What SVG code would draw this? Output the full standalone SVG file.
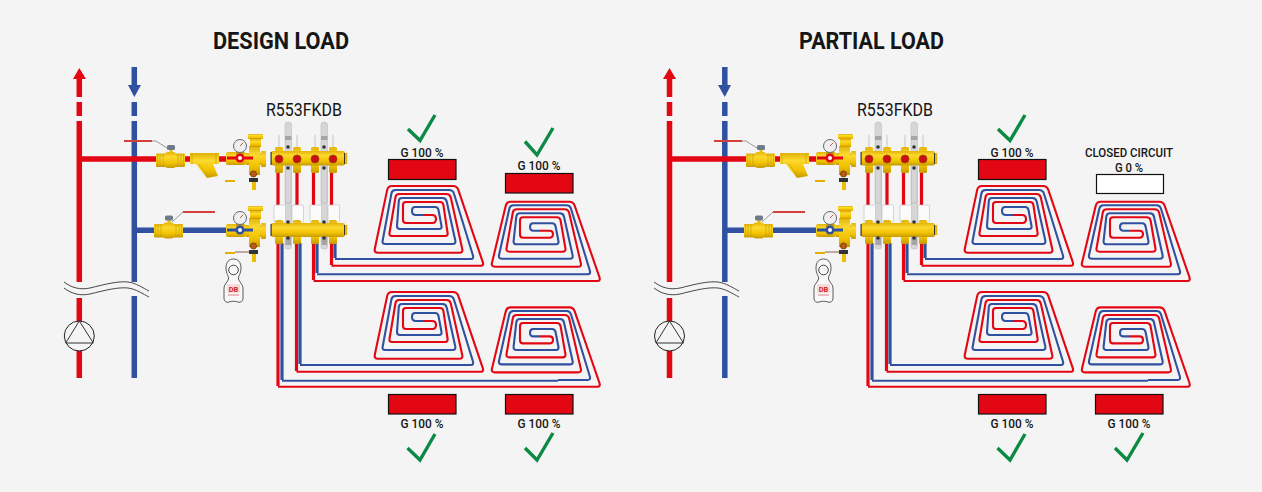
<svg xmlns="http://www.w3.org/2000/svg" xmlns:xlink="http://www.w3.org/1999/xlink" width="1262" height="492" viewBox="0 0 1262 492">
<style>
text{font-family:Roboto,"Liberation Sans",sans-serif;fill:#161616}
.title{font-size:24px;font-weight:700}
.model{font-size:17.5px}
.lab{font-size:13px;font-weight:500;text-anchor:middle}
.r{fill:none;stroke:#e30613;stroke-width:2.1;stroke-linejoin:round}
.b{fill:none;stroke:#2f519f;stroke-width:2.1;stroke-linejoin:round}
.rv{stroke:#e30613;stroke-width:3.2;fill:none}
.bv{stroke:#2f519f;stroke-width:3.2;fill:none}
.rp{stroke:#e30613;stroke-width:5.5;fill:none}
.bp{stroke:#2f519f;stroke-width:5.5;fill:none}
.y{fill:url(#brass)}
.ys{fill:#efbe00}
.box{stroke:#111;stroke-width:1.2}
.tick{fill:none;stroke:#0b8a44;stroke-width:3.4}
.thin{fill:none;stroke:#333;stroke-width:1}
.wave{fill:none;stroke:#333;stroke-width:.9}
.strip{fill:#d6d6d6;stroke:#b5b5b5;stroke-width:.5}
.dark{fill:#333}
.wh{fill:#fbfbfb;stroke:#c4c4c4;stroke-width:.7}
</style>
<defs>
<linearGradient id="brass" x1="0" y1="0" x2="0" y2="1"><stop offset="0" stop-color="#e3b208"/><stop offset=".3" stop-color="#fbd92e"/><stop offset=".7" stop-color="#f2c200"/><stop offset="1" stop-color="#c79a05"/></linearGradient>
<g id="spiralA">
<path class="r" d="M470,265.7L481,265.7Q484,265.7 482.7,261.9L458.3,189.8Q457,186 453,186L392,186Q388,186 387.2,189.9L374.8,248.8Q374,252.7 378,252.7L459.5,252.7Q463,252.7 462.3,249.3L450.8,197.4Q450,194 446.5,194L399,194Q396,194 395.5,197L389.5,233Q389,236 392,236L445,236Q448,236 447.6,233L443.4,205Q443,202 440,202L406,202Q403,202 403,205L403,220Q403,223 406,223L432.5,223Q436,223 436,219Q436,215 432,215L423,215"/>
<path class="b" d="M468,259L471,259Q474,259 472.9,255.2L454,193.8Q453,190 449,190L395.5,190Q392,190 391.4,193.5L382.6,241Q382,244 385.5,244L452.5,244Q456,244 455.3,240.5L446.7,201.5Q446,198 442.5,198L402,198Q399,198 398.8,201L397,226Q397,229 400,229L439,229Q442,229 441.5,226L438.5,210Q438,207 435,207L415,207Q412,207 412,211Q412,215 416,215L423,215"/>
</g>
<g id="spiralB">
<path class="r" d="M560,281L597.5,281Q600.7,281 599.4,277L574.6,205.5Q573.3,201.7 569.5,201.7L510.5,201.7Q506.7,201.7 505.8,205.6L492,262.8Q491,266.7 495,266.7L578,266.7Q581.7,266.7 580.8,263L569.2,213Q568.3,209.3 564.5,209.3L517,209.3Q513.3,209.3 512.8,212.5L506.5,248.5Q506,251.7 509.5,251.7L562.5,251.7Q566,251.7 565.4,248.3L560.6,220.5Q560,217.3 556.5,217.3L523,217.3Q520,217.3 520,220.5L520,234.5Q520,237.7 523,237.7L549.5,237.7Q553,237.7 553,234Q553,230.7 549.5,230.7L540,230.7"/>
<path class="b" d="M558,274.3L587.5,274.3Q591,274.3 589.8,270.5L571.1,209Q570,205.3 566.5,205.3L513.5,205.3Q510,205.3 509.3,208.7L499,255.3Q498.3,258.7 502,258.7L570,258.7Q573.3,258.7 572.6,255.3L564,216.7Q563.3,213.3 560,213.3L520,213.3Q516.7,213.3 516.3,216.7L513.6,241Q513.3,244.3 516.5,244.3L556,244.3Q559,244.3 558.4,241L555.6,226.5Q555,223.3 552,223.3L533,223.3Q530,223.3 530,227Q530,230.7 533.5,230.7L540,230.7"/>
</g>
<g id="ballBody">
<rect class="y" x="0" y="-6.500" width="29" height="13.500" rx="1"/>
<rect class="y" x="9" y="-8" width="11" height="16" rx="3"/>
<rect class="ys" x="13.500" y="-11" width="3" height="4"/>
<rect x="11" y="-15" width="8" height="5" rx="1.500" fill="#6e7c8a"/>
<path d="M1.500,-6V6.500M4,-6V6.500M7,-6V6.500M22,-6V6.500M25,-6V6.500M27.500,-6V6.500" stroke="#c39a08" stroke-width=".6"/>
</g>
<g id="strainer">
<path class="y" d="M190,153H219V164H213L218,176L207,178L196,164H190Z"/>
<path d="M192,153V164M216,153V164M199,164L209,177" stroke="#c39a08" stroke-width=".6" fill="none"/>
</g>
<g id="safety">
<rect class="y" x="226" y="152" width="20" height="13" rx="2"/>
<rect class="y" x="246" y="153" width="20" height="12"/>
<rect class="y" x="261" y="151" width="5" height="16" rx="1"/>
<rect class="y" x="249" y="146" width="11" height="29"/>
<rect class="y" x="248" y="134" width="15" height="5" rx="1"/>
<rect class="y" x="250" y="139" width="11" height="8"/>
<rect x="236" y="150" width="8" height="5" fill="#c8a000"/>
<circle cx="240" cy="146" r="6.500" fill="#eef0f0" stroke="#667" stroke-width="1"/>
<path d="M240,146L243,143" stroke="#c22" stroke-width=".8"/>
<circle cx="253.500" cy="174" r="3" fill="#c2561a" stroke="#7b4a00" stroke-width="1"/>
<rect x="249" y="178" width="9" height="4" fill="#333"/>
<rect class="ys" x="252" y="182" width="4" height="8"/>
</g>
<g id="manifoldTop">
<g class="strip"><rect x="285" y="122" width="6.500" height="83" rx="3"/><rect x="321" y="122" width="6.500" height="83" rx="3"/></g>
<path d="M279,135V148M297,135V148M315,135V148M333,135V148" stroke="#dcdcdc" stroke-width="2"/>
<g class="y"><rect x="275" y="147" width="8" height="26" rx="1.500"/><rect x="293" y="147" width="8" height="26" rx="1.500"/><rect x="311" y="147" width="8" height="26" rx="1.500"/><rect x="329" y="147" width="8" height="26" rx="1.500"/></g>
<rect class="y" x="271" y="151" width="74" height="14.500" rx="2"/>
<rect x="344" y="153" width="1.200" height="11" fill="#333"/><rect x="345.200" y="153" width="2" height="11" fill="#e6b400"/>
<rect x="270.500" y="152" width="1.200" height="13" fill="#333"/>
<g fill="#cf0d14" stroke="#8a4a00" stroke-width=".7"><circle cx="279" cy="159" r="4"/><circle cx="297" cy="159" r="4"/><circle cx="315" cy="159" r="4"/><circle cx="333" cy="159" r="4"/></g>
<rect class="strip" x="285.500" y="166" width="5.500" height="37"/><rect class="strip" x="321.500" y="166" width="5.500" height="37"/>
<g class="dark"><circle cx="288" cy="147" r="1.800"/><circle cx="324" cy="147" r="1.800"/><circle cx="288" cy="168" r="1.800"/><circle cx="324" cy="168" r="1.800"/></g>
<rect x="285" y="136" width="6.500" height="4" fill="#a5a5a5"/><rect x="321" y="136" width="6.500" height="4" fill="#a5a5a5"/>
</g>
<g id="manifoldBottom">
<g class="strip"><rect x="285" y="203" width="6.500" height="46" rx="2"/><rect x="321" y="203" width="6.500" height="46" rx="2"/></g>
<g class="wh"><rect x="274" y="205" width="11.500" height="17" rx="1"/><rect x="292" y="205" width="11.500" height="17" rx="1"/><rect x="310" y="205" width="11.500" height="17" rx="1"/><rect x="328" y="205" width="11.500" height="17" rx="1"/></g>
<g class="y"><rect x="275" y="220" width="8" height="24" rx="1.500"/><rect x="293" y="220" width="8" height="24" rx="1.500"/><rect x="311" y="220" width="8" height="24" rx="1.500"/><rect x="329" y="220" width="8" height="24" rx="1.500"/></g>
<rect class="y" x="271" y="223" width="74" height="14" rx="2"/>
<rect x="344" y="225" width="1.200" height="10" fill="#333"/><rect x="345.200" y="225" width="2" height="10" fill="#e6b400"/>
<rect x="270.500" y="224" width="1.200" height="12" fill="#333"/>
<rect x="285.500" y="237" width="5.500" height="8" fill="#a5a5a5"/><rect x="321.500" y="237" width="5.500" height="8" fill="#a5a5a5"/>
<g class="dark"><circle cx="288" cy="222" r="1.800"/><circle cx="324" cy="222" r="1.800"/><circle cx="288" cy="238" r="1.800"/><circle cx="324" cy="238" r="1.800"/></g>
</g>
<g id="tagShape">
<path d="M226,268C226,262 229,259 233.500,259C238,259 241,262 241,268C241,274 238,276 238.500,279C239,282 243,284 243,288V298C243,301 241,303 238,302C235,301 232,301 229,302C226,303 224,301 224,298V288C224,284 228,282 228.500,279C229,276 226,274 226,268Z" fill="#f8f8f8" stroke="#333" stroke-width=".8"/>
<circle cx="233.500" cy="270" r="4.800" fill="none" stroke="#333" stroke-width=".9"/>
<rect x="227" y="284" width="13" height="9" fill="#f7dcdc"/>
<path d="M228,295H239" stroke="#e8a8a8" stroke-width="1.500"/>
</g>
</defs>
<rect x="0" y="0" width="1262" height="492" fill="#f4f4f4"/>

<g id="connectors">
<path id="riser-red-l" class="rp" d="M79.300,79V97M79.300,102V116M79.300,121V282M79.300,298V378"/>
<path id="riser-blue-l" class="bp" d="M134.300,67V86M134.300,102V116M134.300,121V282M134.300,296V378"/>
<path id="branch-red-l" class="rp" d="M79,159H157M184,159H191M218,159H228"/>
<path id="branch-blue-l" class="bp" d="M135,230.300H155M182,230.300H228"/>
<path class="rv" d="M278,173V205M297,173V205M313.500,173V205M331.500,173V205"/>
<path class="rv" d="M278,243V386M296.500,243V371M313.500,243V280M331.500,243V265"/>
<path class="bv" d="M282,243V380M300,243V364M317,243V273M335,243V258"/>
<path class="r" d="M278,386.700H560M296.500,371.700H470M313.500,281H560M331.500,265.700H470"/>
<path class="b" d="M282,380.700H558M300,365H468M317,274.300H558M335,259H468"/>
<path id="riser-red-r" class="rp" d="M669.500,79V97M669.500,102V116M669.500,121V282M669.500,298V378"/>
<path id="riser-blue-r" class="bp" d="M724.800,67V86M724.800,102V116M724.800,121V282M724.800,296V378"/>
<path id="branch-red-r" class="rp" d="M669,159H747M774,159H781M808,159H818"/>
<path id="branch-blue-r" class="bp" d="M725,230.300H745M772,230.300H818"/>
<g transform="translate(590,0)">
<path class="rv" d="M278,173V205M297,173V205M313.500,173V205M331.500,173V205"/>
<path class="rv" d="M278,243V386M296.500,243V371M313.500,243V280M331.500,243V265"/>
<path class="bv" d="M282,243V380M300,243V364M317,243V273M335,243V258"/>
<path class="r" d="M278,386.700H560M296.500,371.700H470M313.500,281H560M331.500,265.700H470"/>
<path class="b" d="M282,380.700H558M300,365H468M317,274.300H558M335,259H468"/>
</g>
</g>

<g id="arrow-red-l"><polygon points="79.300,68 86,79 73,79" fill="#e30613"/></g>
<g id="arrow-blue-l"><polygon points="134.300,97 141,85 128,85" fill="#2f519f"/></g>
<g id="arrow-red-r"><polygon points="669.500,68 676,79 663,79" fill="#e30613"/></g>
<g id="arrow-blue-r"><polygon points="724.800,97 731,85 718,85" fill="#2f519f"/></g>

<g id="break-l"><path class="wave" d="M64,282C72,288 80,290 90,288C106,284 118,281 128,282C136,283 143,288 149,291"/><path class="wave" d="M64,288C72,294 80,296 90,294C106,290 118,287 128,288C136,289 143,294 149,297"/></g>
<g id="break-r"><path class="wave" d="M654,282C662,288 670,290 680,288C696,284 708,281 718,282C726,283 733,288 739,291"/><path class="wave" d="M654,288C662,294 670,296 680,294C696,290 708,287 718,288C726,289 733,294 739,297"/></g>

<g id="pump-l"><circle cx="79.300" cy="336" r="15" fill="#f4f4f4" stroke="#222" stroke-width="1"/><polygon class="thin" points="79.300,321 65.700,343 93.300,343"/></g>
<g id="pump-r"><circle cx="669.500" cy="336" r="15" fill="#f4f4f4" stroke="#222" stroke-width="1"/><polygon class="thin" points="669.500,321 655.900,343 683.500,343"/></g>

<g id="supply-valve-l"><use href="#ballBody" transform="translate(156,160)"/><path d="M124,141H152" stroke="#d5403f" stroke-width="2"/><path d="M152,141H156L167,148" stroke="#999" stroke-width="1" fill="none"/></g>
<g id="strainer-l"><use href="#strainer"/></g>
<g id="safety-top-l"><use href="#safety"/><path d="M227,158H253" stroke="#e30613" stroke-width="3"/><circle cx="240" cy="158" r="4.500" fill="#e30613"/><circle cx="240" cy="158" r="2" fill="#fff"/><rect x="225" y="180" width="10" height="2" fill="#e2b100"/></g>
<g id="return-valve-l"><use href="#ballBody" transform="translate(154,230.500)"/><path d="M183,212H215" stroke="#d5403f" stroke-width="2"/><path d="M183,212L172,222" stroke="#999" stroke-width="1" fill="none"/></g>
<g id="safety-bottom-l"><use href="#safety" transform="translate(0,72)"/><path d="M227,230H253" stroke="#2f519f" stroke-width="3"/><circle cx="240" cy="230" r="4.500" fill="#2f519f"/><circle cx="240" cy="230" r="2" fill="#fff"/><rect x="225" y="252" width="10" height="2" fill="#e2b100"/><path d="M235,252H249" stroke="#7a3a22" stroke-width=".8"/></g>
<g id="manifold-top-l"><use href="#manifoldTop"/></g>
<g id="manifold-bottom-l"><use href="#manifoldBottom"/></g>
<g id="tag-l"><use href="#tagShape"/><text x="233.500" y="291.500" font-size="7.500" font-weight="700" text-anchor="middle" style="fill:#d8232a">DB</text></g>

<g id="supply-valve-r" transform="translate(590,0)"><use href="#ballBody" transform="translate(156,160)"/><path d="M124,141H152" stroke="#d5403f" stroke-width="2"/><path d="M152,141H156L167,148" stroke="#999" stroke-width="1" fill="none"/></g>
<g id="strainer-r" transform="translate(590,0)"><use href="#strainer"/></g>
<g id="safety-top-r" transform="translate(590,0)"><use href="#safety"/><path d="M227,158H253" stroke="#e30613" stroke-width="3"/><circle cx="240" cy="158" r="4.500" fill="#e30613"/><circle cx="240" cy="158" r="2" fill="#fff"/><rect x="225" y="180" width="10" height="2" fill="#e2b100"/></g>
<g id="return-valve-r" transform="translate(590,0)"><use href="#ballBody" transform="translate(154,230.500)"/><path d="M183,212H215" stroke="#d5403f" stroke-width="2"/><path d="M183,212L172,222" stroke="#999" stroke-width="1" fill="none"/></g>
<g id="safety-bottom-r" transform="translate(590,0)"><use href="#safety" transform="translate(0,72)"/><path d="M227,230H253" stroke="#2f519f" stroke-width="3"/><circle cx="240" cy="230" r="4.500" fill="#2f519f"/><circle cx="240" cy="230" r="2" fill="#fff"/><rect x="225" y="252" width="10" height="2" fill="#e2b100"/><path d="M235,252H249" stroke="#7a3a22" stroke-width=".8"/></g>
<g id="manifold-top-r" transform="translate(590,0)"><use href="#manifoldTop"/></g>
<g id="manifold-bottom-r" transform="translate(590,0)"><use href="#manifoldBottom"/></g>
<g id="tag-r" transform="translate(590,0)"><use href="#tagShape"/><text x="233.500" y="291.500" font-size="7.500" font-weight="700" text-anchor="middle" style="fill:#d8232a">DB</text></g>

<g id="loop-a-l"><use href="#spiralA"/></g>
<g id="loop-b-l"><use href="#spiralB"/></g>
<g id="loop-c-l"><use href="#spiralA" transform="translate(0,106)"/></g>
<g id="loop-d-l"><use href="#spiralB" transform="translate(0,105.700)"/></g>
<g id="loop-a-r"><use href="#spiralA" transform="translate(590,0)"/></g>
<g id="loop-b-r"><use href="#spiralB" transform="translate(590,0)"/></g>
<g id="loop-c-r"><use href="#spiralA" transform="translate(590,106)"/></g>
<g id="loop-d-r"><use href="#spiralB" transform="translate(590,105.700)"/></g>

<g id="title-l"><text class="title" x="213" y="48.500" textLength="136" lengthAdjust="spacingAndGlyphs">DESIGN LOAD</text></g>
<g id="title-r"><text class="title" x="799" y="48.500" textLength="145" lengthAdjust="spacingAndGlyphs">PARTIAL LOAD</text></g>
<g id="model-l"><text class="model" x="266" y="116" textLength="76" lengthAdjust="spacingAndGlyphs">R553FKDB</text></g>
<g id="model-r"><text class="model" x="857" y="116" textLength="76" lengthAdjust="spacingAndGlyphs">R553FKDB</text></g>

<g id="status-a-l"><rect class="box" x="388.500" y="159.500" width="67.500" height="20" fill="#e30613"/><text class="lab" x="422" y="156.700" textLength="43" lengthAdjust="spacingAndGlyphs">G 100 %</text><path class="tick" d="M408,129L420,140.500L435,115"/></g>
<g id="status-b-l"><rect class="box" x="505.500" y="173.500" width="67.500" height="19.500" fill="#e30613"/><text class="lab" x="539" y="170" textLength="43" lengthAdjust="spacingAndGlyphs">G 100 %</text><path class="tick" d="M525,141.500L537,155L553,128"/></g>
<g id="status-c-l"><rect class="box" x="388.500" y="394.500" width="67.500" height="19.500" fill="#e30613"/><text class="lab" x="422" y="427.700" textLength="43" lengthAdjust="spacingAndGlyphs">G 100 %</text><path class="tick" d="M407.500,448L420,460L435,434"/></g>
<g id="status-d-l"><rect class="box" x="505.500" y="394.500" width="67.500" height="19.500" fill="#e30613"/><text class="lab" x="539" y="427.700" textLength="43" lengthAdjust="spacingAndGlyphs">G 100 %</text><path class="tick" d="M525,448L537,460L553,433"/></g>
<g id="status-a-r"><rect class="box" x="978.500" y="159.500" width="67.500" height="20" fill="#e30613"/><text class="lab" x="1012" y="156.700" textLength="43" lengthAdjust="spacingAndGlyphs">G 100 %</text><path class="tick" d="M998,129L1010,140.500L1025,115"/></g>
<g id="status-b-r"><rect class="box" x="1096.500" y="174.500" width="67" height="19" fill="#fff"/><text class="lab" x="1129" y="156.700" textLength="88" lengthAdjust="spacingAndGlyphs">CLOSED CIRCUIT</text><text class="lab" x="1129" y="171.700" textLength="28" lengthAdjust="spacingAndGlyphs">G 0 %</text></g>
<g id="status-c-r"><rect class="box" x="978.500" y="394.500" width="67.500" height="19.500" fill="#e30613"/><text class="lab" x="1012" y="427.700" textLength="43" lengthAdjust="spacingAndGlyphs">G 100 %</text><path class="tick" d="M997.500,448L1010,460L1025,434"/></g>
<g id="status-d-r"><rect class="box" x="1095.500" y="394.500" width="67.500" height="19.500" fill="#e30613"/><text class="lab" x="1129" y="427.700" textLength="43" lengthAdjust="spacingAndGlyphs">G 100 %</text><path class="tick" d="M1115,448L1127,460L1143,433"/></g>
</svg>
